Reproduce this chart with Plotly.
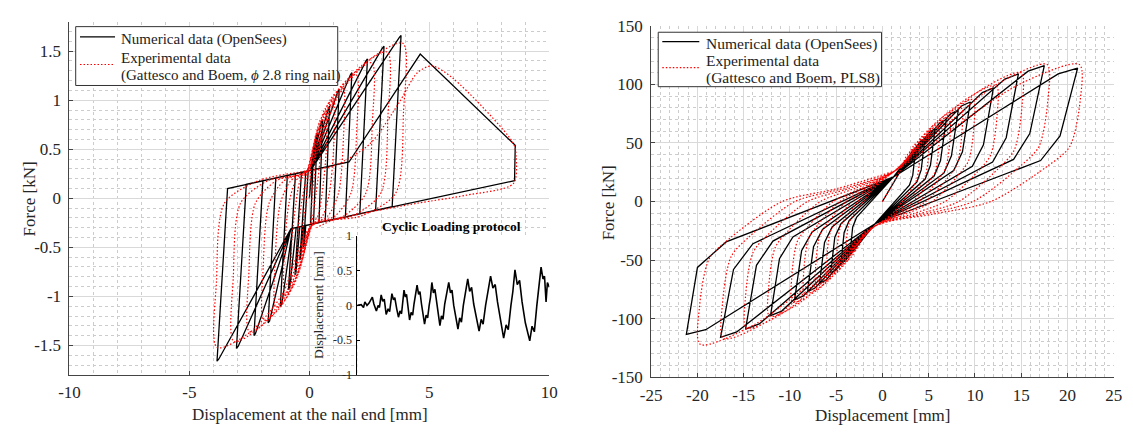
import plotly.graph_objects as go

FONT = "Liberation Serif, Times New Roman, Times, serif"

# ---------------- Left panel: nail hysteresis ----------------
left_num_pts = [
    (0, 0), (0.15, 0.50), (0.18, 0.52), (0.05, -0.267), (-0.15, -0.277), (-0.22, -0.48), (-0.25, -0.50), (-0.05, 0.279), (0.05, 0.285),
    (0.30, 0.64), (0.33, 0.66), (0.17, -0.260), (-0.25, -0.282), (-0.37, -0.61), (-0.40, -0.63), (-0.15, 0.274), (0.05, 0.285),
    (0.51, 0.78), (0.55, 0.80), (0.40, -0.248), (-0.40, -0.290), (-0.56, -0.76), (-0.60, -0.78), (-0.33, 0.264), (0.05, 0.285),
    (0.80, 0.92), (0.84, 0.94), (0.66, -0.234), (-0.55, -0.298), (-0.82, -0.91), (-0.87, -0.93), (-0.58, 0.251), (0.05, 0.285),
    (1.19, 1.09), (1.24, 1.11), (1.00, -0.216), (-0.70, -0.306), (-1.15, -1.08), (-1.21, -1.10), (-0.92, 0.232), (0.05, 0.285),
    (1.71, 1.26), (1.77, 1.28), (1.50, -0.190), (-0.77, -0.310), (-1.66, -1.25), (-1.72, -1.27), (-1.40, 0.207), (0.05, 0.285),
    (2.36, 1.40), (2.42, 1.42), (2.10, -0.158), (-0.77, -0.310), (-2.25, -1.38), (-2.31, -1.40), (-1.94, 0.178), (0.05, 0.285),
    (3.04, 1.53), (3.11, 1.55), (2.76, -0.123), (-0.77, -0.310), (-2.97, -1.51), (-3.04, -1.53), (-2.63, 0.142), (0.05, 0.285),
    (3.75, 1.64), (3.82, 1.66), (3.45, -0.086), (-0.77, -0.310), (-3.78, -1.64), (-3.85, -1.66), (-3.41, 0.100), (1.65, 0.370),
    (4.62, 1.47), (8.58, 0.54), (8.55, 0.18), (-0.77, -0.310),
]

left_exp_pts = [
    (0, 0),
    (0.07, 0.36), (0.14, 0.50), (0.22, 0.55), (0.24, 0.30), (0.12, 0.05), (0.05, -0.26),
    (-0.08, -0.36), (-0.18, -0.50), (-0.27, -0.55), (-0.29, -0.30), (-0.14, -0.05), (-0.05, 0.26),
    (0.13, 0.47), (0.27, 0.65), (0.42, 0.72), (0.44, 0.40), (0.28, 0.05), (0.08, -0.27),
    (-0.14, -0.46), (-0.31, -0.63), (-0.47, -0.70), (-0.49, -0.39), (-0.33, -0.05), (-0.08, 0.27),
    (0.20, 0.57), (0.44, 0.79), (0.68, 0.88), (0.70, 0.48), (0.53, 0.05), (0.37, -0.17), (0.1, -0.28),
    (-0.22, -0.56), (-0.47, -0.77), (-0.72, -0.86), (-0.74, -0.47), (-0.56, -0.05), (-0.40, 0.17), (-0.1, 0.28),
    (0.30, 0.66), (0.65, 0.91), (1.0, 1.01), (1.02, 0.56), (0.83, 0.05), (0.55, -0.18), (0.1, -0.28),
    (-0.31, -0.64), (-0.66, -0.89), (-1.02, -0.99), (-1.04, -0.54), (-0.85, -0.05), (-0.56, 0.18), (-0.1, 0.28),
    (0.42, 0.73), (0.91, 1.02), (1.4, 1.13), (1.42, 0.62), (1.21, 0.05), (0.77, -0.18), (0.1, -0.28),
    (-0.42, -0.72), (-0.91, -1.0), (-1.4, -1.11), (-1.42, -0.61), (-1.21, -0.05), (-0.77, 0.18), (-0.1, 0.28),
    (0.59, 0.82), (1.27, 1.13), (1.95, 1.26), (1.97, 0.69), (1.73, 0.05), (1.07, -0.18), (0.1, -0.28),
    (-0.57, -0.81), (-1.24, -1.12), (-1.9, -1.24), (-1.92, -0.68), (-1.68, -0.05), (-1.05, 0.18), (-0.1, 0.28),
    (0.78, 0.90), (1.69, 1.24), (2.6, 1.38), (2.62, 0.76), (2.35, 0.05), (1.43, -0.18), (0.1, -0.28),
    (-0.75, -0.88), (-1.63, -1.22), (-2.5, -1.36), (-2.52, -0.75), (-2.25, -0.05), (-1.38, 0.18), (-0.1, 0.28),
    (0.98, 0.97), (2.11, 1.34), (3.25, 1.49), (3.27, 0.82), (2.97, 0.05), (1.79, -0.18), (0.1, -0.28),
    (-0.95, -0.95), (-2.05, -1.31), (-3.15, -1.46), (-3.17, -0.80), (-2.87, -0.05), (-1.73, 0.18), (-0.1, 0.28),
    (1.17, 1.03), (2.54, 1.42), (3.9, 1.58), (3.92, 0.87), (3.59, 0.05), (2.15, -0.18), (0.1, -0.28),
    (-1.16, -0.99), (-2.50, -1.37), (-3.85, -1.52), (-3.87, -0.84), (-3.54, -0.05), (-2.12, 0.18), (-0.1, 0.28),
    (1.0, 0.33), (2.5, 0.55), (3.7, 0.96), (4.5, 1.28), (5.1, 1.35), (6.0, 1.22), (8.5, 0.56), (8.62, 0.42),
    (8.5, 0.15), (6.5, 0.03), (4.5, -0.05), (2.5, -0.14), (1.0, -0.22), (0.3, -0.30),
]

# ---------------- Right panel: PLS8 ----------------
right_num_pts = [
    (0, 0),
    (3.24, 43.2), (3.6, 45), (3.28, 22.5), (2.92, 14.0), (-0.8, -19), (-3.15, -42.2), (-3.5, -44), (-3.22, -22), (-2.8, -13.6), (1.2, 21),
    (4.14, 51.8), (4.6, 54), (4.19, 27), (3.73, 16.7), (-0.8, -19), (-4.05, -50.9), (-4.5, -53), (-4.14, -26.5), (-3.6, -16.4), (1.2, 21),
    (5.13, 59.5), (5.7, 62), (5.19, 31), (4.62, 19.2), (-0.8, -19), (-5.04, -58.6), (-5.6, -61), (-5.15, -30.5), (-4.48, -18.9), (1.2, 21),
    (6.21, 67.2), (6.9, 70), (6.28, 35), (5.59, 21.7), (-0.8, -19), (-6.12, -67.2), (-6.8, -70), (-6.26, -35), (-5.44, -21.7), (1.2, 21),
    (7.38, 74.9), (8.2, 78), (7.46, 39), (6.64, 24.2), (-0.8, -19), (-7.29, -73.9), (-8.1, -77), (-7.45, -38.5), (-6.48, -23.9), (1.2, 21),
    (8.55, 81.6), (9.5, 85), (8.65, 42.5), (7.7, 26.4), (-0.8, -19), (-8.55, -80.6), (-9.5, -84), (-8.74, -42), (-7.6, -26), (1.2, 21),
    (10.8, 93.1), (12.0, 97), (10.92, 48.5), (9.72, 30.1), (-0.8, -19), (-10.89, -93.6), (-12.1, -97.5), (-11.13, -48.8), (-9.68, -30.2), (1.2, 21),
    (13.23, 104.6), (14.7, 109), (13.38, 54.5), (11.91, 33.8), (-0.8, -19), (-13.32, -104.6), (-14.8, -109), (-13.62, -54.5), (-11.84, -33.8), (1.2, 21),
    (15.75, 111.4), (17.5, 116), (15.93, 58), (14.18, 36), (-0.8, -19), (-15.75, -111.4), (-17.5, -116), (-16.1, -58), (-14.0, -36), (1.2, 21),
    (19.0, 109), (21.1, 114), (19.2, 56), (17.1, 35), (-0.8, -19), (-19.1, -109.5), (-21.2, -113.5), (-20.0, -56.3), (-16.9, -34.5), (1.2, 21),
]

right_exp_pts = [
    (0, 0),
    (1.87, 25.9), (2.73, 40.4), (3.9, 47), (4.0, 35.3), (3.71, 18.8), (3.24, 11.8), (2.15, 0), (0.98, -11), (-0.8, -21),
    (-1.83, -25.3), (-2.66, -39.6), (-3.8, -46), (-3.9, -34.5), (-3.61, -18.4), (-3.15, -11.5), (-2.09, 0), (-0.95, 11), (1.3, 26),
    (2.22, 30.8), (3.43, 48.2), (4.9, 56), (5.0, 42), (4.66, 22.4), (4.07, 14), (2.7, 0), (1.23, -11), (-0.8, -21),
    (-2.18, -30.3), (-3.36, -47.3), (-4.8, -55), (-4.9, -41.3), (-4.56, -22), (-3.98, -13.8), (-2.64, 0), (-1.2, 11), (1.3, 26),
    (2.6, 35.2), (4.2, 55.0), (6.0, 64), (6.1, 48), (5.7, 25.6), (4.98, 16), (3.3, 0), (1.5, -11), (-0.8, -21),
    (-2.57, -34.7), (-4.13, -54.2), (-5.9, -63), (-6.0, -47.3), (-5.61, -25.2), (-4.9, -15.8), (-3.25, 0), (-1.48, 11), (1.3, 26),
    (3.02, 39.6), (5.04, 61.9), (7.2, 72), (7.3, 54), (6.84, 28.8), (5.98, 18), (3.96, 0), (1.8, -11), (-0.8, -21),
    (-2.99, -39.1), (-4.97, -61.1), (-7.1, -71), (-7.2, -53.3), (-6.75, -28.4), (-5.89, -17.8), (-3.91, 0), (-1.78, 11), (1.3, 26),
    (3.48, 44), (5.95, 68.8), (8.5, 80), (8.6, 60), (8.08, 32), (7.06, 20), (4.68, 0), (2.13, -11), (-0.8, -21),
    (-3.44, -43.5), (-5.88, -67.9), (-8.4, -79), (-8.5, -59.3), (-7.98, -31.6), (-6.97, -19.8), (-4.62, 0), (-2.1, 11), (1.3, 26),
    (3.93, 47.9), (6.86, 74.8), (9.8, 87), (9.9, 65.3), (9.31, 34.8), (8.13, 21.8), (5.39, 0), (2.45, -11), (-0.8, -21),
    (-3.9, -47.3), (-6.79, -74), (-9.7, -86), (-9.8, -64.5), (-9.22, -34.4), (-8.05, -21.5), (-5.34, 0), (-2.43, 11), (1.3, 26),
    (4.81, 54.5), (8.61, 85.1), (12.3, 99), (12.4, 74.3), (11.69, 39.6), (10.21, 24.8), (6.77, 0), (3.08, -11), (-0.8, -21),
    (-4.77, -53.9), (-8.54, -84.3), (-12.2, -98), (-12.3, -73.5), (-11.59, -39.2), (-10.13, -24.5), (-6.71, 0), (-3.05, 11), (1.3, 26),
    (5.75, 60.5), (10.5, 94.6), (15.0, 110), (15.1, 82.5), (14.25, 44), (12.45, 27.5), (8.25, 0), (3.75, -11), (-0.8, -21),
    (-5.65, -59.4), (-10.29, -92.9), (-14.7, -108), (-14.8, -81), (-13.97, -43.2), (-12.2, -27), (-8.09, 0), (-3.68, 11), (1.3, 26),
    (6.73, 64.4), (12.46, 100.6), (17.8, 117), (17.9, 87.8), (16.91, 46.8), (14.77, 29.3), (9.79, 0), (4.45, -11), (-0.8, -21),
    (-6.52, -64.4), (-12.04, -100.6), (-17.2, -117), (-17.3, -87.8), (-16.34, -46.8), (-14.28, -29.3), (-9.46, 0), (-4.3, 11), (1.3, 26),
    (7.96, 64.4), (14.91, 100.6), (21.3, 117), (21.4, 87.8), (20.24, 46.8), (17.68, 29.3), (11.72, 0), (5.33, -11), (-0.8, -21),
    (-7.4, -67.1), (-13.79, -104.9), (-19.7, -122), (-19.8, -91.5), (-18.72, -48.8), (-16.35, -30.5), (-10.84, 0), (-4.93, 11), (1.3, 26),
]

# ---------------- Inset: cyclic loading protocol ----------------
protocol_t = [0, 2, 3.2, 3.9, 5, 6, 7.8, 8.6, 9.9, 10.8, 11.5, 12.4, 13.2, 14, 15, 16, 16.8, 18, 18.8, 19.5,
              20.5, 21.4, 22.2, 23, 24.3, 25, 25.6, 26.4, 27.2, 28, 28.8, 29.5, 30.3, 31.1, 31.9, 32.6, 33.4,
              34.2, 35, 35.8, 36.6, 37.4, 38.1, 38.8, 39.6, 40.4, 41.2, 42.1, 43, 43.8, 44.6, 45.5, 46.5, 47.6,
              48.5, 49.3, 50.2, 51.2, 52.4, 53.3, 54.2, 55.2, 56.3, 57.5, 58.5, 59.5, 60.6, 61.8, 63.4, 64.5,
              65.5, 66.8, 68, 69.4, 70.6, 71.8, 73, 74.5, 76.2, 77.5, 78.6, 80, 81, 82.1, 83.3, 84.5, 85.8, 87.5,
              89.8, 91, 92.2, 93.5, 94.6, 95.7, 96.7, 97.5, 98.3, 99, 100]
protocol_d = [0, 0.01, -0.03, 0.05, 0.0, 0.03, 0.12, 0.02, -0.08, 0.0, -0.03, 0.15, 0.06, 0.09, -0.13, -0.05,
              -0.09, 0.17, 0.08, 0.11, -0.05, -0.17, -0.08, -0.12, 0.22, 0.12, 0.16, -0.06, -0.21, -0.10, -0.14,
              0.02, 0.18, 0.29, 0.16, 0.20, 0.02, -0.12, -0.27, -0.14, -0.18, 0.0, 0.12, 0.33, 0.18, 0.23, 0.05,
              -0.10, -0.29, -0.15, -0.20, 0.02, 0.15, 0.33, 0.18, 0.22, 0.0, -0.15, -0.34, -0.18, -0.24, 0.0,
              0.18, 0.38, 0.20, 0.26, 0.02, -0.15, -0.37, -0.20, -0.27, 0.0, 0.20, 0.42, 0.25, 0.30, 0.05,
              -0.20, -0.47, -0.28, -0.35, 0.0, 0.20, 0.51, 0.30, 0.36, 0.05, -0.25, -0.51, -0.30, -0.38, 0.0,
              0.25, 0.55, 0.38, 0.42, 0.05, 0.33, 0.26]

# ---------------- Axis ticks ----------------
left_xticks = [-10, -5, 0, 5, 10]
left_xtext = ["-10", "-5", "0", "5", "10"]
left_yticks = [-1.5, -1, -0.5, 0, 0.5, 1, 1.5]
left_ytext = ["-1.5", "-1", "-0.5", "0", "0.5", "1", "1.5"]
right_xticks = [-25, -20, -15, -10, -5, 0, 5, 10, 15, 20, 25]
right_xtext = ["-25", "-20", "-15", "-10", "-5", "0", "5", "10", "15", "20", "25"]
right_yticks = [-150, -100, -50, 0, 50, 100, 150]
right_ytext = ["-150", "-100", "-50", "0", "50", "100", "150"]
inset_yticks = [-1, -0.5, 0, 0.5, 1]
inset_ytext = ["-1", "-0.5", "0", "0.5", "1"]

NUM_NAME = "Numerical data (OpenSees)"
EXP_NAME = "Experimental data"
EXP_LEFT_SRC = "(Gattesco and Boem, <i>ϕ</i> 2.8 ring nail)"
EXP_RIGHT_SRC = "(Gattesco and Boem, PLS8)"

RED_DASH = "1.5px,2px"


def xs(pts):
    return [p[0] for p in pts]


def ys(pts):
    return [p[1] for p in pts]


fig = go.Figure()
fig.add_trace(go.Scatter(x=xs(left_num_pts), y=ys(left_num_pts), mode="lines", name=NUM_NAME,
                         line=dict(color="black", width=1.3), xaxis="x", yaxis="y", showlegend=False))
fig.add_trace(go.Scatter(x=xs(left_exp_pts), y=ys(left_exp_pts), mode="lines", name=EXP_NAME,
                         line=dict(color="red", width=1.2, dash=RED_DASH, shape="spline", smoothing=0.8),
                         xaxis="x", yaxis="y", showlegend=False))
fig.add_trace(go.Scatter(x=xs(right_num_pts), y=ys(right_num_pts), mode="lines", name=NUM_NAME,
                         line=dict(color="black", width=1.3), xaxis="x2", yaxis="y2", showlegend=False))
fig.add_trace(go.Scatter(x=xs(right_exp_pts), y=ys(right_exp_pts), mode="lines", name=EXP_NAME,
                         line=dict(color="red", width=1.2, dash=RED_DASH, shape="spline", smoothing=0.8),
                         xaxis="x2", yaxis="y2", showlegend=False))
fig.add_trace(go.Scatter(x=protocol_t, y=protocol_d, mode="lines", showlegend=False,
                         line=dict(color="black", width=1.6), xaxis="x3", yaxis="y3"))

AX = dict(showline=True, linecolor="#444", linewidth=1, ticks="inside", ticklen=4, tickcolor="#444",
          showgrid=True, gridcolor="#d9d9d9", gridwidth=1, zeroline=False,
          tickfont=dict(family=FONT, size=17, color="#262626"))


def minor(d):
    return dict(tickmode="linear", tick0=0, dtick=d, showgrid=True, gridcolor="#cccccc",
                griddash="dot", gridwidth=1, ticks="")


def legend_box(xr, yr, box, line_x, y_num, y_exp, text_x, text_ys, src, size):
    shapes = [
        dict(type="rect", xref=xr, yref=yr, x0=box[0], x1=box[1], y0=box[2], y1=box[3],
             fillcolor="white", line=dict(color="#333", width=1), layer="above"),
        dict(type="line", xref=xr, yref=yr, x0=line_x[0], x1=line_x[1], y0=y_num, y1=y_num,
             line=dict(color="black", width=1.3), layer="above"),
        dict(type="line", xref=xr, yref=yr, x0=line_x[0], x1=line_x[1], y0=y_exp, y1=y_exp,
             line=dict(color="red", width=1.2, dash=RED_DASH), layer="above"),
    ]
    anns = [dict(text=t, xref=xr, yref=yr, x=text_x, y=ty, xanchor="left", yanchor="middle",
                 showarrow=False, font=dict(family=FONT, size=size, color="#222"))
            for t, ty in zip([NUM_NAME, EXP_NAME, src], text_ys)]
    return shapes, anns


sh_l, an_l = legend_box("x", "y", (-9.74, 1.18, 1.15, 1.75), (-9.56, -8.10), 1.646, 1.364,
                        -7.95, (1.623, 1.429, 1.25), EXP_LEFT_SRC, 15)
sh_r, an_r = legend_box("x2", "y2", (-24.24, -0.10, 98.1, 144.6), (-23.8, -19.8), 136.5, 114.3,
                        -19.3, (134.6, 120.2, 105.3), EXP_RIGHT_SRC, 15.5)

titles = [
    dict(text="Force [kN]", xref="paper", yref="paper", x=19 / 1133, y=1 - 198.5 / 433, textangle=-90,
         showarrow=False, font=dict(family=FONT, size=17), xanchor="center", yanchor="middle"),
    dict(text="Displacement at the nail end [mm]", xref="paper", yref="paper", x=304.7 / 1133, y=1 - 424.5 / 433,
         showarrow=False, font=dict(family=FONT, size=17), xanchor="center", yanchor="middle"),
    dict(text="Force [kN]", xref="paper", yref="paper", x=608 / 1133, y=1 - 203 / 433, textangle=-90,
         showarrow=False, font=dict(family=FONT, size=17), xanchor="center", yanchor="middle"),
    dict(text="Displacement [mm]", xref="paper", yref="paper", x=888 / 1133, y=1 - 425 / 433,
         showarrow=False, font=dict(family=FONT, size=17), xanchor="center", yanchor="middle"),
    dict(text="<b>Cyclic Loading protocol</b>", xref="paper", yref="paper", x=448 / 1133, y=1 - 228 / 433,
         showarrow=False, font=dict(family=FONT, size=13.5, color="black"), xanchor="center", yanchor="middle"),
    dict(text="Displacement [mm]", xref="paper", yref="paper", x=313 / 1133, y=1 - 309 / 433, textangle=-90,
         showarrow=False, font=dict(family=FONT, size=13.5), xanchor="center", yanchor="middle"),
]

fig.update_layout(
    width=1133, height=433, margin=dict(l=0, r=0, t=0, b=0),
    paper_bgcolor="white", plot_bgcolor="white", showlegend=False,
    font=dict(family=FONT, size=16, color="#262626"),
    xaxis=dict(AX, domain=[0.05252, 0.48367], range=[-10, 10], anchor="y", tickmode="array",
               tickvals=left_xticks, ticktext=left_xtext, minor=minor(1), ticklabelstandoff=2),
    yaxis=dict(AX, domain=[0.11617, 0.96928], range=[-1.8, 1.8], anchor="x", tickmode="array",
               tickvals=left_yticks, ticktext=left_ytext, minor=minor(0.1), ticklabelstandoff=4),
    xaxis2=dict(AX, domain=[0.57520, 0.99073], range=[-25, 25], anchor="y2", tickmode="array",
                tickvals=right_xticks, ticktext=right_xtext, minor=minor(1), ticklabelstandoff=2),
    yaxis2=dict(AX, domain=[0.11085, 0.95912], range=[-150, 150], anchor="x2", tickmode="array",
                tickvals=right_yticks, ticktext=right_ytext, minor=minor(10), ticklabelstandoff=4),
    xaxis3=dict(domain=[0.31121, 0.48367], range=[0, 100], anchor="y3", visible=False),
    yaxis3=dict(domain=[0.11617, 0.45196], range=[-1, 1], anchor="x3", showline=True, linecolor="black",
                linewidth=1, showgrid=False, zeroline=False, ticks="inside", ticklen=3, tickcolor="black",
                tickmode="array", tickvals=inset_yticks, ticktext=inset_ytext, ticklabelstandoff=2,
                tickfont=dict(family=FONT, size=12, color="#262626")),
    shapes=sh_l + sh_r,
    annotations=an_l + an_r + titles,
)

fig.write_html("out.html", config={"displayModeBar": False},
               post_script="document.body.style.margin='0';document.body.style.padding='0';")
